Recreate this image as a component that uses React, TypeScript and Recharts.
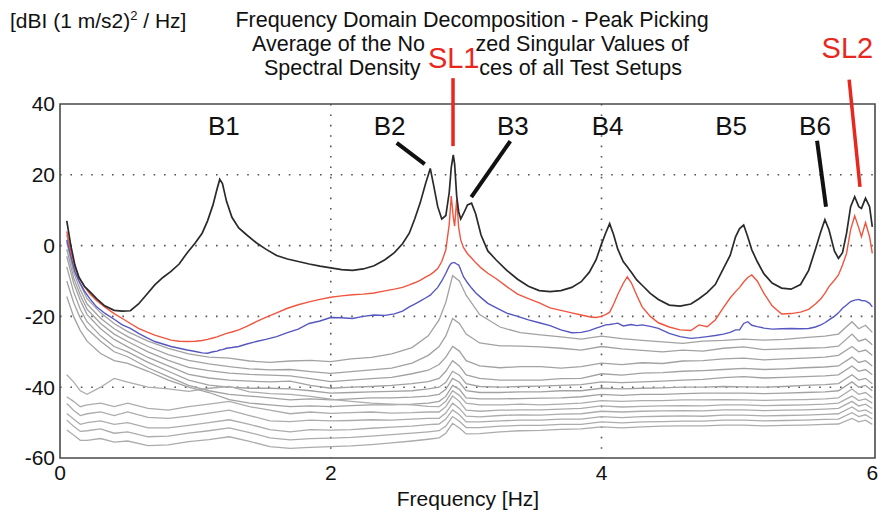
import { LineChart, Line, XAxis, YAxis, CartesianGrid, ReferenceArea, ReferenceLine, ReferenceDot } from "recharts";

// frequency grid [Hz] for the three highlighted singular values
const FREQ_MAIN = [
  0.05, 0.08, 0.11, 0.14, 0.18, 0.22, 0.27, 0.33, 0.4, 0.46,
  0.52, 0.58, 0.64, 0.7, 0.76, 0.82, 0.88, 0.94, 1.0, 1.05,
  1.09, 1.13, 1.16, 1.18, 1.2, 1.23, 1.27, 1.32, 1.38, 1.45,
  1.52, 1.6, 1.68, 1.76, 1.84, 1.92, 2.0, 2.08, 2.16, 2.24,
  2.32, 2.4, 2.47, 2.53, 2.58, 2.62, 2.66, 2.7, 2.735, 2.76,
  2.79, 2.82, 2.85, 2.875, 2.89, 2.905, 2.915, 2.93, 2.945, 2.96,
  2.98, 3.01, 3.04, 3.07, 3.11, 3.16, 3.22, 3.3, 3.38, 3.46,
  3.54, 3.62, 3.7, 3.78, 3.85, 3.91, 3.96, 4.0, 4.03, 4.06,
  4.09, 4.12, 4.16, 4.19, 4.22, 4.26, 4.3, 4.36, 4.42, 4.5,
  4.58, 4.66, 4.72, 4.78, 4.84, 4.9, 4.95, 4.99, 5.02, 5.05,
  5.08, 5.11, 5.15, 5.2, 5.26, 5.33, 5.4, 5.47, 5.53, 5.58,
  5.62, 5.65, 5.68, 5.72, 5.75, 5.78, 5.81, 5.84, 5.87, 5.9,
  5.92, 5.95, 5.98, 6.0,
];

// first singular value (black)
const SV_FIRST = [
  7, 0, -5.5, -9, -11.5, -13, -15, -17, -18.3, -18.5,
  -18.4, -16.5, -13.8, -11.1, -9, -7.3, -5.2, -2, 0.8, 3.5,
  7, 11.5, 16, 18.7, 17.5, 12.5, 8, 5, 3, 0.8,
  -1, -2.8, -3.8, -4.5, -5.2, -5.8, -6.3, -6.8, -7, -6.6,
  -5.7, -4, -2, 0.5, 3.5, 7.5, 12, 17.5, 21.8, 17,
  11, 7.5, 8.5, 15, 22, 25.6, 23, 14, 9.5, 7.5,
  9, 11.5, 12, 9, 3, -1.5, -4, -7, -9.5, -11.5,
  -12.7, -13, -12.7, -11.8, -10.2, -7.5, -4, 0.5, 3.5, 6.2,
  3, -1, -4.5, -6, -7.5, -9.7, -11.2, -13.5, -15.2, -16.8,
  -17.1, -16.5, -15, -13.3, -11, -6.5, -2.8, 2.5, 4.8, 5.8,
  2.5, -1.2, -4.5, -8, -10.6, -12, -12.3, -11, -7, -1,
  4, 7.3, 4.5, -1.5, -3.6, -2, 3.5, 11, 13.8, 11,
  10.5, 13.4, 11, 5.3,
];

// second singular value (red)
const SV_SECOND = [
  4, -1.5, -6, -8.8, -11.5, -13.6, -15.5, -17.3, -19.2, -20.6,
  -22, -23.4, -24.4, -25.3, -26, -26.7, -27, -27.1, -27, -26.8,
  -26.5, -26.1, -25.8, -25.5, -25.2, -24.8, -24.4, -23.8, -22.8, -21.5,
  -20.3, -19, -17.7, -16.7, -15.9, -15.2, -14.6, -14.2, -13.9, -13.7,
  -13.4, -12.8, -12.3, -11.8, -11.1, -10.5, -9.8, -8.9, -8.2, -7.5,
  -6.5, -4.5, -1.2, 6, 14, 8, 5.5, 13, 5, 1.6,
  -0.5, -2.3, -3.5, -4.8, -6.3, -7.8, -9.3, -11.6, -13.7, -15,
  -16.2, -17.6, -18.3, -19, -19.6, -20.1, -20.3, -20, -19.5, -18.8,
  -16.5, -13.8, -10.7, -8.8, -10.5, -14, -17.3, -20, -21.8, -23,
  -23.8, -24, -22.4, -22.9, -21, -17.5, -14.8, -13, -11.8, -10.3,
  -9, -8.3, -10, -13.5, -17, -19.3, -19.2, -18.8, -18, -16.5,
  -15, -13.5, -11.6, -9.8, -8.3, -5.5, -2.2, 4.5, 8.4, 5,
  2.5, 6.5, 2.5, -2.2,
];

// third singular value (blue)
const SV_THIRD = [
  1.6, -3, -7.4, -10, -12.8, -15, -17.3, -19.1, -20.8, -22.4,
  -23.4, -24.8, -26, -27.1, -27.8, -28.5, -29, -29.5, -29.9, -30.3,
  -30.4, -30, -29.8, -29.5, -29.4, -29, -28.8, -28.5, -27.8, -27.1,
  -26.5, -25.7, -24.6, -23.6, -22, -21.3, -20.3, -20.4, -20.6, -20,
  -19.6, -19.7, -19.3, -18.5, -17.3, -16.5, -15.7, -14.8, -14, -13,
  -11.8, -10, -7.8, -5.8, -5, -4.8, -4.8, -5.2, -5.5, -6.8,
  -8.8, -10.5, -12, -13.3, -14.7, -16.3, -17.5, -19.1, -20, -21,
  -21.8, -22.6, -23.8, -24.6, -24.5, -24, -23.3, -22.8, -22.4, -22.3,
  -22.1, -21.9, -22.7, -22.5, -22.3, -22.6, -22.4, -22.8, -23.4, -24.8,
  -25.7, -26.2, -26, -25.7, -25.4, -25, -24.5, -23.8, -23.8, -22,
  -21.5, -22.5, -22.9, -23.3, -23.6, -23.5, -23.4, -23.5, -23.4, -23,
  -22.4, -21.8, -21, -20, -19, -17.7, -16.8, -15.8, -15.4, -15.2,
  -15.5, -15.6, -16.3, -17.3,
];

// coarser grid for the remaining singular values (grey)
const FREQ_GRAY = [
  0.05, 0.1, 0.15, 0.2, 0.3, 0.4, 0.5, 0.65, 0.8, 0.95,
  1.1, 1.25, 1.4, 1.55, 1.7, 1.85, 2.0, 2.15, 2.3, 2.45,
  2.6, 2.72, 2.8, 2.85, 2.9, 2.95, 3.0, 3.1, 3.25, 3.4,
  3.55, 3.7, 3.85, 4.0, 4.15, 4.3, 4.45, 4.6, 4.75, 4.9,
  5.05, 5.2, 5.35, 5.5, 5.65, 5.75, 5.85, 5.9, 5.95, 6.0,
];

const SV_4 = [
  3, -6, -11, -15, -19, -22, -24.3, -27, -29, -30.6,
  -31.5, -31.8, -32.6, -33, -32.6, -32.4, -32.8, -32, -31.6, -30.6,
  -28.8, -25.5, -21, -16, -8.5, -10, -14, -19.5, -23, -24.6,
  -25.2, -25.8, -26.4, -25.6, -26.3, -26.8, -27.2, -27.6, -27, -26.8,
  -26.4, -26.7, -26.5, -26, -25.6, -25, -21.5, -23.5, -22.5, -24.5,
];
const SV_5 = [
  1, -7.5, -12.5, -16.5, -20.5, -23.5, -25.7, -28.5, -30.8, -32.4,
  -33.4, -34.2, -34.8, -35.1, -35, -35.6, -36.1, -35.6, -35.1, -34.6,
  -33.2, -31, -28.5, -25.5, -20.6, -22, -25, -27.5, -28.3, -28.4,
  -28.6, -29, -29.5, -28.5, -29.2, -29.6, -30, -29.5, -29.8, -29,
  -28.6, -29.4, -29.2, -29, -28.8, -28.4, -25, -27, -26.4, -28,
];
const SV_6 = [
  -1, -9, -14, -18, -22, -25, -27.1, -30, -32.4, -34.4,
  -35.3, -36, -36.4, -36.6, -36.8, -37.6, -38.4, -38, -37.6, -37.2,
  -36.2, -35.2, -33.6, -31.5, -28.5, -29.8, -32.5, -34, -34.5, -34.2,
  -34.2, -34.6, -34.2, -33.2, -33.6, -33.1, -33.3, -32.6, -32.5, -32,
  -31.8, -32.3, -32, -31.8, -31.5, -31, -28.5, -30, -29.5, -31,
];
const SV_7 = [
  -3, -10.5, -15.5, -19.5, -23.5, -26.5, -28.6, -31.6, -34, -36.4,
  -37.4, -38, -38.3, -38.5, -38.3, -39.5, -40.3, -40, -39.8, -39.5,
  -39, -38.4, -37.5, -35.5, -32.5, -34, -36.5, -37.5, -38, -38,
  -38, -37.6, -37.5, -36.2, -36.6, -36, -35.9, -35.5, -35.3, -35,
  -34.7, -35, -34.8, -34.5, -34.3, -34, -31.5, -33, -32.5, -34,
];
const SV_8 = [
  -6, -13, -18, -21.5, -25.5, -28.5, -30, -33, -35.5, -38,
  -39.4, -40, -40.3, -40.3, -40.5, -41, -41.7, -41.5, -41.3, -41.2,
  -41, -40.5, -40, -38.6, -35.5, -36.6, -39, -39.8, -40, -39.8,
  -39.7, -39.5, -39.3, -38.5, -38.7, -38.5, -38.3, -38, -37.8, -37.3,
  -37, -37.4, -37.2, -37, -36.8, -36.5, -34, -35.5, -35, -36.5,
];
const SV_9 = [
  -10, -16, -20.5, -23.5, -27, -30, -31.4, -34.5, -37, -39.5,
  -41, -42, -42.5, -43, -43.6, -43.3, -43.6, -43.3, -43, -43,
  -42.8, -42.5, -42, -40.6, -37.5, -38.6, -41, -41.5, -41.5, -41.3,
  -41.3, -41, -41, -40.3, -40.5, -40.3, -40.2, -40, -40, -39.8,
  -39.9, -40, -39.8, -39.5, -39.3, -39, -36.5, -38, -37.5, -39,
];
const SV_10 = [
  -14.4, -20, -24, -27, -30.5, -32.5, -33.3, -35.5, -38, -40,
  -41.5, -43.5, -44.5, -45, -45.5, -45.3, -45.5, -45.2, -45, -45,
  -44.8, -44.5, -44, -42.6, -39.5, -40.6, -43, -43.3, -43.3, -43.2,
  -43.1, -43, -42.7, -42, -42.3, -42, -42, -41.8, -41.7, -41.7,
  -41.7, -41.8, -41.7, -41.5, -41.3, -41, -38.5, -40, -39.5, -41,
];
const SV_11 = [
  -36.5, -38.5, -41, -42, -40, -37.5, -38.6, -40, -40.5, -41.2,
  -40.3, -39.8, -41.3, -41.8, -42, -42.6, -43.4, -44, -44.5, -44.8,
  -45, -45.4, -45.5, -44, -41, -42.3, -44.5, -45, -45, -44.8,
  -45, -44.8, -44.5, -43.8, -44, -43.8, -43.8, -43.6, -43.6, -43.5,
  -43.6, -43.7, -43.6, -43.5, -43.3, -43, -40.5, -42, -41.5, -43,
];
const SV_12 = [
  -42.7, -44, -45.5, -45, -44.5, -45.5, -44.5, -46, -46.5, -45.5,
  -44.8, -44, -45.5, -46.5, -47.5, -47, -47.4, -47.2, -47, -47.3,
  -47.2, -47, -47, -45.5, -42.5, -44, -46.5, -46.8, -46.5, -46.4,
  -46.4, -46.2, -46, -45.3, -45.6, -45.4, -45.3, -45.2, -45.3, -45,
  -45, -45.2, -45.1, -45, -44.8, -44.5, -42.5, -43.8, -43.3, -44.5,
];
const SV_13 = [
  -44.6, -46.5, -48, -47.5, -47, -48, -47, -48.5, -48.8, -48.2,
  -47.3, -46.5, -48, -49.5, -49.7, -49.3, -49.5, -49.4, -49.2, -49.3,
  -49, -48.8, -48.8, -47.3, -44.5, -46, -48.2, -48.4, -48, -47.8,
  -47.9, -47.6, -47.5, -46.8, -47, -46.8, -46.7, -46.6, -46.7, -46.4,
  -46.4, -46.6, -46.5, -46.4, -46.2, -46, -44, -45.3, -44.8, -46,
];
const SV_14 = [
  -47.4, -49, -50.5, -50, -49.5, -50.5, -50, -51.5, -51.5, -50.8,
  -50, -49.2, -50.5, -52, -52.6, -52, -52.1, -52, -51.6, -51.3,
  -51, -50.6, -50.4, -49, -46.4, -47.8, -49.8, -49.8, -49.5, -49.3,
  -49.3, -49, -49, -48.3, -48.6, -48.3, -48.2, -48.1, -48.2, -47.9,
  -47.9, -48.1, -48, -47.9, -47.7, -47.5, -45.6, -46.8, -46.4, -47.5,
];
const SV_15 = [
  -49.3, -51, -52.5, -52.3, -51.8, -53, -52.6, -54, -53.8, -53,
  -52.3, -51.5, -52.8, -54.3, -54.9, -54.5, -54.4, -54.2, -53.8, -53.4,
  -53, -52.6, -52.3, -51, -48.3, -49.6, -51.4, -51.4, -51, -50.8,
  -50.8, -50.5, -50.5, -49.8, -50.1, -49.8, -49.7, -49.6, -49.6, -49.3,
  -49.3, -49.5, -49.4, -49.3, -49.1, -49, -47.2, -48.3, -47.8, -49,
];
const SV_16 = [
  -52.1, -53.5, -55, -55, -54.5, -55.5, -55.2, -56.5, -56.3, -55.4,
  -54.8, -54, -55.3, -56.8, -57.3, -57, -56.8, -56.6, -56.2, -55.7,
  -55.2, -54.7, -54.3, -53, -50.2, -51.5, -53.2, -53.1, -52.6, -52.3,
  -52.2, -51.9, -51.8, -51.2, -51.5, -51.2, -51, -50.9, -50.9, -50.7,
  -50.7, -50.9, -50.8, -50.7, -50.5, -50.4, -48.8, -49.8, -49.3, -50.5,
];

const GRAY_SERIES = [SV_4, SV_5, SV_6, SV_7, SV_8, SV_9, SV_10, SV_11, SV_12, SV_13, SV_14, SV_15, SV_16];

const X_TICKS = [0, 2, 4, 6];
const Y_TICKS = [-60, -40, -20, 0, 20, 40];
const GRID_Y = [20, 0, -20, -40];
const GRID_X = [2, 4];

// title as it is visible (the SL1 tag hides the middle of lines 2 and 3)
const TITLE_TOP = "Frequency Domain Decomposition - Peak Picking";
const TITLE_MID = ["Average of the No", "zed Singular Values of"];
const TITLE_LOW = ["Spectral Density", "ces of all Test Setups"];

// peak annotations, in chart units (Hz, dB)
const PEAK_TAGS = [
  { name: "B1", f: 1.21, db: 33.9 },
  { name: "B2", f: 2.435, db: 33.9 },
  { name: "B3", f: 3.345, db: 33.9 },
  { name: "B4", f: 4.045, db: 33.9 },
  { name: "B5", f: 4.957, db: 33.9 },
  { name: "B6", f: 5.577, db: 33.9 },
];
const PEAK_POINTERS = [
  [{ x: 2.487, y: 29 }, { x: 2.694, y: 23 }],
  [{ x: 3.326, y: 29.5 }, { x: 3.038, y: 13.7 }],
  [{ x: 5.592, y: 29.6 }, { x: 5.658, y: 11 }],
];
const SL_TAGS = [
  { name: "SL1", f: 2.908, db: 53.1 },
  { name: "SL2", f: 5.816, db: 55.8 },
];
const SL_POINTERS = [
  [{ x: 2.903, y: 47.3 }, { x: 2.903, y: 28.1 }],
  [{ x: 5.829, y: 46.9 }, { x: 5.909, y: 16.6 }],
];

const FONT = "'Liberation Sans', Arial, Helvetica, sans-serif";

const toPoints = (freq: number[], vals: number[]) => freq.map((f, i) => ({ f, v: vals[i] }));

function TagText({ cx, cy, text, size, color }: any) {
  if (cx == null || cy == null) return null;
  return (
    <text x={cx} y={cy + size * 0.358} textAnchor="middle" fontFamily={FONT} fontSize={size} fill={color}>
      {text}
    </text>
  );
}

export default function App() {
  return (
    <div style={{ position: "relative", width: 887, height: 517, background: "#fff" }}>
      <style>{"body{margin:0}"}</style>
      <svg width={887} height={517} style={{ position: "absolute", left: 0, top: 0 }}>
        <text x={10} y={28} fontFamily={FONT} fontSize={21} fill="#111">
          [dBI (1 m/s2)
          <tspan dy={-8} fontSize={13}>2</tspan>
          <tspan dy={8}> / Hz]</tspan>
        </text>
        <g fontFamily={FONT} fontSize={21.5} fill="#111">
          <text x={472} y={27} textAnchor="middle">{TITLE_TOP}</text>
          <text x={252} y={51}>{TITLE_MID[0]}</text>
          <text x={689} y={51} textAnchor="end">{TITLE_MID[1]}</text>
          <text x={264} y={75}>{TITLE_LOW[0]}</text>
          <text x={682} y={75} textAnchor="end">{TITLE_LOW[1]}</text>
        </g>
        <text x={468} y={506} textAnchor="middle" fontFamily={FONT} fontSize={21} fill="#111">
          Frequency [Hz]
        </text>
      </svg>
      <div style={{ position: "absolute", left: 0, top: 0 }}>
        <LineChart width={887} height={517} margin={{ top: 104, right: 12, bottom: 29, left: 0 }}>
          <CartesianGrid
            horizontalValues={GRID_Y}
            verticalValues={GRID_X}
            stroke="#555"
            strokeWidth={1.6}
            strokeDasharray="1.6 8.8"
          />
          <XAxis
            type="number"
            dataKey="f"
            domain={[0, 6.02]}
            ticks={X_TICKS}
            allowDataOverflow
            axisLine={false}
            tickLine={false}
            tickSize={0}
            tickMargin={7}
            height={30}
            tick={{ fill: "#111", fontSize: 21, fontFamily: FONT }}
          />
          <YAxis
            type="number"
            domain={[-60, 40]}
            ticks={Y_TICKS}
            allowDataOverflow
            axisLine={false}
            tickLine={false}
            tickSize={0}
            tickMargin={5}
            width={60}
            tick={{ fill: "#111", fontSize: 21, fontFamily: FONT }}
          />
          {GRAY_SERIES.map((s, i) => (
            <Line
              key={`g${i}`}
              data={toPoints(FREQ_GRAY, s)}
              dataKey="v"
              type="linear"
              stroke={i < 7 ? "#a2a2a2" : "#acacac"}
              strokeWidth={1.3}
              dot={false}
              isAnimationActive={false}
            />
          ))}
          <Line data={toPoints(FREQ_MAIN, SV_THIRD)} dataKey="v" type="linear" stroke="#5656c0" strokeWidth={1.4} dot={false} isAnimationActive={false} />
          <Line data={toPoints(FREQ_MAIN, SV_SECOND)} dataKey="v" type="linear" stroke="#f0553f" strokeWidth={1.4} dot={false} isAnimationActive={false} />
          <Line data={toPoints(FREQ_MAIN, SV_FIRST)} dataKey="v" type="linear" stroke="#2a2a2a" strokeWidth={1.7} dot={false} isAnimationActive={false} />
          <ReferenceArea x1={0} x2={6.02} y1={-60} y2={40} fill="none" stroke="#4a4a4a" strokeWidth={1.6} ifOverflow="visible" />
          {PEAK_POINTERS.map((seg, i) => (
            <ReferenceLine key={`bp${i}`} segment={seg} stroke="#111" strokeWidth={4} ifOverflow="visible" />
          ))}
          {SL_POINTERS.map((seg, i) => (
            <ReferenceLine key={`sp${i}`} segment={seg} stroke="#e8281e" strokeWidth={3.5} ifOverflow="visible" />
          ))}
          {PEAK_TAGS.map((t) => (
            <ReferenceDot
              key={t.name}
              x={t.f}
              y={t.db}
              r={1}
              ifOverflow="visible"
              shape={(p: any) => <TagText cx={p.cx} cy={p.cy} text={t.name} size={26} color="#111" />}
            />
          ))}
          {SL_TAGS.map((t) => (
            <ReferenceDot
              key={t.name}
              x={t.f}
              y={t.db}
              r={1}
              ifOverflow="visible"
              shape={(p: any) => <TagText cx={p.cx} cy={p.cy} text={t.name} size={29} color="#e8281e" />}
            />
          ))}
        </LineChart>
      </div>
    </div>
  );
}
